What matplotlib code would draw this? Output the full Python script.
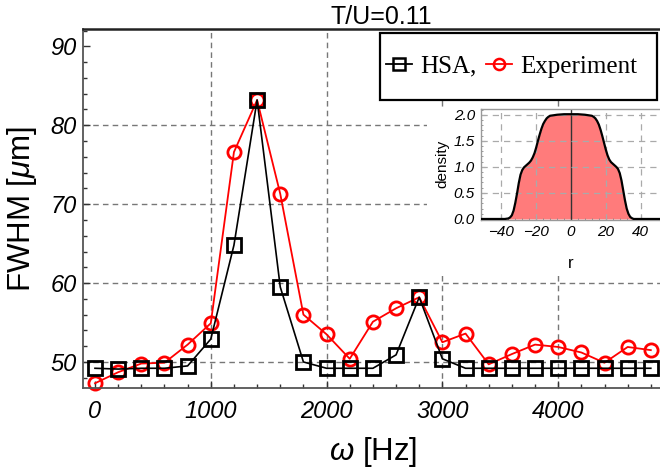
import matplotlib
matplotlib.use("Agg")
import matplotlib.pyplot as plt
from matplotlib.lines import Line2D
from matplotlib.patches import Rectangle
from matplotlib.ticker import MultipleLocator, AutoMinorLocator

# ---- data ----
omega = [0, 200, 400, 600, 800, 1000, 1200, 1400, 1600, 1800, 2000, 2200, 2400,
         2600, 2800, 3000, 3200, 3400, 3600, 3800, 4000, 4200, 4400, 4600, 4800]
hsa = [49.2, 49.1, 49.2, 49.2, 49.5, 52.9, 64.8, 83.2, 59.5, 50.0, 49.2, 49.2, 49.2,
       50.9, 58.2, 50.4, 49.2, 49.2, 49.2, 49.2, 49.2, 49.2, 49.2, 49.2, 49.2]
experiment = [47.3, 48.7, 49.8, 49.9, 52.2, 54.9, 76.6, 83.2, 71.3, 56.0, 53.5, 50.4, 55.1,
              56.8, 58.2, 52.5, 53.6, 49.7, 51.0, 52.2, 51.9, 51.2, 49.9, 51.9, 51.5]

r_inset = [-52, -44, -38, -36, -35, -34, -33, -32, -31, -30, -29, -28, -27, -26, -25, -24,
           -23, -22, -21, -20, -19, -18, -17, -16, -15, -14, -13, -12, -10, -8, -4, 0,
           4, 8, 10, 12, 13, 14, 15, 16, 17, 18, 19, 20, 21, 22, 23, 24, 25, 26, 27,
           28, 29, 30, 31, 32, 33, 34, 35, 36, 38, 44, 52]
density = [0.0, 0.0, 0.0, 0.01, 0.03, 0.07, 0.16, 0.31, 0.49, 0.69, 0.85, 0.94, 0.99, 1.02,
           1.05, 1.08, 1.12, 1.18, 1.26, 1.37, 1.50, 1.62, 1.73, 1.82, 1.88, 1.93, 1.96, 1.98,
           1.99, 2.0, 2.01, 2.01,
           2.01, 2.0, 1.99, 1.98, 1.96, 1.93, 1.88, 1.81, 1.71, 1.59, 1.46, 1.33, 1.22,
           1.14, 1.09, 1.06, 1.03, 1.0, 0.96, 0.88, 0.74, 0.55, 0.36, 0.20, 0.10, 0.04,
           0.015, 0.0, 0.0, 0.0, 0.0]

xgrid = [1000, 2000, 3000, 4000]
ygrid = [50, 60, 70, 80]
inset_xgrid = [-40, -20, 20, 40]
inset_ygrid = [0.5, 1.0, 1.5, 2.0]

plt.rcParams['font.family'] = ['Liberation Sans', 'DejaVu Sans']
plt.rcParams['mathtext.fontset'] = 'custom'
plt.rcParams['mathtext.it'] = 'Liberation Sans:italic'
plt.rcParams['mathtext.rm'] = 'Liberation Sans'

W, H = 660, 472
fig = plt.figure(figsize=(W / 100, H / 100), dpi=100)

def fx(px):
    return px / W

def fy(py):
    return 1 - py / H

ax = fig.add_axes([fx(83.4), fy(388), fx(662.4) - fx(83.4), fy(29) - fy(388)])
ax.set_xlim(-100, 4900)
ax.set_ylim(46.7, 92.2)

for g in xgrid:
    ax.axvline(g, color='#777777', lw=1.0, ls=(0, (4, 3)), zorder=0.5)
for g in ygrid:
    ax.axhline(g, color='#777777', lw=1.0, ls=(0, (4, 3)), zorder=0.5)

ax.plot(omega, experiment, color='red', lw=1.3, marker='o', ms=9.5, mfc='none',
        mec='red', mew=2.0, zorder=2, clip_on=False)
ax.plot(omega, hsa, color='black', lw=1.2, marker='s', ms=9.5, mfc='none',
        mec='black', mew=2.0, zorder=3, clip_on=False)

ax.xaxis.set_major_locator(MultipleLocator(1000))
ax.xaxis.set_minor_locator(MultipleLocator(200))
ax.yaxis.set_major_locator(MultipleLocator(10))
ax.yaxis.set_minor_locator(MultipleLocator(2))
ax.tick_params(which='both', direction='in', top=False, right=False, colors='#333333',
               labelcolor='black')
ax.tick_params(which='major', length=5, width=1, labelsize=17)
ax.tick_params(axis='x', which='major', pad=9)
ax.tick_params(axis='y', which='major', pad=5)
ax.tick_params(which='minor', length=3, width=1)
for lab in ax.get_xticklabels() + ax.get_yticklabels():
    lab.set_fontstyle('italic')

for s in ['left', 'bottom']:
    ax.spines[s].set_color('#555555')
    ax.spines[s].set_linewidth(1.3)
ax.spines['top'].set_color('#222222')
ax.spines['top'].set_linewidth(1.8)
ax.spines['right'].set_visible(False)

ax.set_xlabel(r'$\mathit{\omega}$ [Hz]', fontsize=22.5, labelpad=8)
ax.set_ylabel(r'FWHM [$\mathit{\mu}$m]', fontsize=22.5, labelpad=8)

fig.text(fx(381), fy(24), 'T/U=0.11', fontsize=18, ha='center', va='baseline')

# legend box drawn explicitly, legend entries without frame
fig.patches.append(Rectangle((fx(380), fy(100)), fx(657) - fx(380), fy(33) - fy(100),
                             transform=fig.transFigure, facecolor='white',
                             edgecolor='black', lw=1.6, zorder=1))
handles = [Line2D([], [], color='black', lw=1.3, marker='s', ms=8, mfc='none', mew=1.8),
           Line2D([], [], color='red', lw=1.3, marker='o', ms=8, mfc='none', mew=1.8)]
leg = fig.legend(handles, ['HSA,', 'Experiment'], ncol=2, loc='center left',
                 bbox_to_anchor=(fx(386), fy(66.5)), bbox_transform=fig.transFigure,
                 prop={'family': 'Liberation Serif', 'size': 18}, frameon=False,
                 borderpad=0, handlelength=1.05, handletextpad=0.3, columnspacing=0.4,
                 borderaxespad=0)
leg.set_zorder(3)

# white background behind the inset
fig.patches.append(Rectangle((fx(427), fy(273)), fx(662) - fx(427), fy(107) - fy(273),
                             transform=fig.transFigure, facecolor='white',
                             edgecolor='none', zorder=1))

ins = fig.add_axes([fx(480.5), fy(219.5), fx(661.5) - fx(480.5), fy(109) - fy(219.5)])
ins.set_zorder(2)
ins.set_xlim(-52, 52)
ins.set_ylim(-0.01, 2.11)
ins.fill_between(r_inset, density, 0, color='#ff7b7b', lw=0, zorder=1)
ins.plot(r_inset, density, color='black', lw=1.6, zorder=3)
ins.axvline(0, color='#333333', lw=1.0, zorder=2)
for g in inset_xgrid:
    ins.axvline(g, color='#aaaaaa', lw=0.9, ls=(0, (5, 4)), zorder=2)
for g in inset_ygrid:
    ins.axhline(g, color='#aaaaaa', lw=0.9, ls=(0, (5, 4)), zorder=2)
ins.xaxis.set_major_locator(MultipleLocator(20))
ins.xaxis.set_minor_locator(AutoMinorLocator(5))
ins.yaxis.set_major_locator(MultipleLocator(0.5))
ins.yaxis.set_minor_locator(AutoMinorLocator(5))
ins.tick_params(which='both', direction='in', colors='#888888', labelcolor='black')
ins.tick_params(which='major', length=3, labelsize=11, pad=4)
ins.tick_params(which='minor', length=1.5)
for lab in ins.get_xticklabels() + ins.get_yticklabels():
    lab.set_fontstyle('italic')
ins.set_xticks([-40, -20, 0, 20, 40])
ins.set_xticklabels(['\u221240', '\u221220', '0', '20', '40'], fontstyle='italic')
ins.yaxis.set_major_formatter(matplotlib.ticker.FormatStrFormatter('%.1f'))
for s in ins.spines.values():
    s.set_color('#999999')
    s.set_linewidth(1.0)
ins.set_ylabel('density', fontsize=11, labelpad=3)
ins.set_xlabel('r', fontsize=12, labelpad=12)

fig.savefig('out.png', dpi=100)
